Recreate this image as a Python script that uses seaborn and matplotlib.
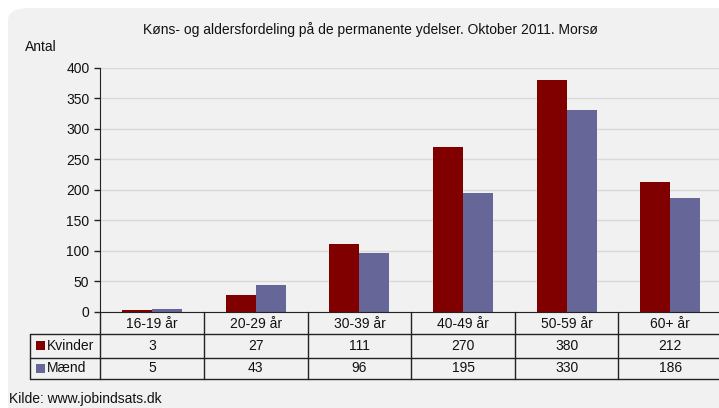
import matplotlib
matplotlib.use("Agg")
import matplotlib.pyplot as plt
from matplotlib.patches import FancyBboxPatch, Rectangle
from matplotlib.lines import Line2D
import pandas as pd
import seaborn as sns

categories = ["16-19 år", "20-29 år", "30-39 år", "40-49 år", "50-59 år", "60+ år"]
kvinder = [3, 27, 111, 270, 380, 212]
maend = [5, 43, 96, 195, 330, 186]
series_names = ["Kvinder", "Mænd"]
colors = {"Kvinder": "#800000", "Mænd": "#666699"}

df = pd.DataFrame({
    "Alder": categories * 2,
    "Antal": kvinder + maend,
    "Køn": ["Kvinder"] * len(categories) + ["Mænd"] * len(categories),
})

W, H = 719, 408
BG = "#F0F1F0"
sns.set_style("white")
plt.rcParams["font.family"] = ["Liberation Sans", "DejaVu Sans"]

fig = plt.figure(figsize=(W / 100, H / 100), dpi=100, facecolor="white")


def fx(x):
    return x / W


def fy(y):
    return 1 - y / H


# rounded panel background (behind the axes)
fig.patches.append(FancyBboxPatch((fx(8), fy(430)), fx(760) - fx(8), fy(8) - fy(430),
                                  boxstyle="round,pad=0,rounding_size=0.03",
                                  transform=fig.transFigure, facecolor=BG,
                                  edgecolor="none", zorder=-5))

# axes: x from 100 to ~722 px, y from 67.7 to 311.7 px
left, right, top, bottom = 100.5, 722, 67.7, 311.7
ax = fig.add_axes([fx(left), fy(bottom), fx(right) - fx(left), (bottom - top) / H])
ax.set_facecolor(BG)

sns.barplot(data=df, x="Alder", y="Antal", hue="Køn", palette=colors,
            width=0.58, saturation=1, ax=ax, legend=False, zorder=3,
            edgecolor="none", linewidth=0)

ax.set_ylim(0, 400)
ax.set_xlim(-0.5, len(categories) - 0.5)
ax.set_yticks(range(0, 401, 50))
ax.yaxis.grid(True, color="#D9D9D9", linewidth=1, zorder=0)
ax.set_axisbelow(True)
for s in ["top", "right"]:
    ax.spines[s].set_visible(False)
ax.spines["left"].set_color("#222222")
ax.spines["bottom"].set_color("#222222")
ax.spines["left"].set_zorder(5)
ax.spines["bottom"].set_zorder(5)
ax.tick_params(axis="y", left=True, length=4, width=1, color="#222222",
               pad=4, labelsize=10, labelcolor="#111111")
ax.set_xticks(range(len(categories)))
ax.set_xticklabels(categories)
ax.tick_params(axis="x", length=0, pad=4, labelsize=10, labelcolor="#111111")
ax.set_xlabel("")
ax.set_ylabel("")

# data table under the axis
line_kw = dict(color="#222222", linewidth=1, transform=fig.transFigure)
col_w = (right - left) / len(categories)
rows_y = [311.7, 334, 357.5, 379]
for i in range(len(categories) + 1):
    x = left + i * col_w
    fig.add_artist(Line2D([fx(x), fx(x)], [fy(rows_y[0]), fy(rows_y[-1])], **line_kw))
fig.add_artist(Line2D([fx(30), fx(30)], [fy(rows_y[1]), fy(rows_y[-1])], **line_kw))
for y in rows_y[1:]:
    fig.add_artist(Line2D([fx(30), fx(right)], [fy(y), fy(y)], **line_kw))

for r, (name, vals) in enumerate(zip(series_names, [kvinder, maend])):
    yc = (rows_y[r + 1] + rows_y[r + 2]) / 2
    fig.add_artist(Rectangle((fx(35.5), fy(yc + 4.5)), fx(9), 9 / H,
                             transform=fig.transFigure, facecolor=colors[name],
                             edgecolor="none"))
    fig.text(fx(47), fy(yc), name, ha="left", va="center", fontsize=10, color="#111111")
    for i, v in enumerate(vals):
        fig.text(fx(left + (i + 0.5) * col_w), fy(yc), str(v), ha="center",
                 va="center", fontsize=10, color="#111111")

fig.text(fx(370), fy(30), "Køns- og aldersfordeling på de permanente ydelser. Oktober 2011. Morsø",
         ha="center", va="center", fontsize=10, color="#111111")
fig.text(fx(25), fy(47), "Antal", ha="left", va="center", fontsize=10, color="#111111")
fig.text(fx(9), fy(406), "Kilde: www.jobindsats.dk", ha="left", va="bottom",
         fontsize=10, color="#111111")

fig.savefig("out.png", dpi=100, facecolor="white")
